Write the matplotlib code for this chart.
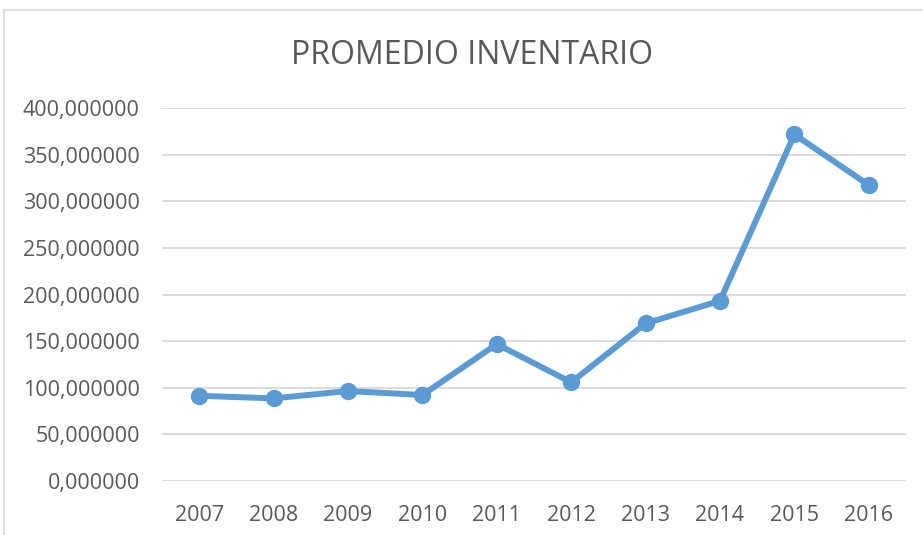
import matplotlib
matplotlib.use("Agg")
import matplotlib.pyplot as plt
from matplotlib.patches import Rectangle
from matplotlib.ticker import FuncFormatter

# Data
years = ["2007", "2008", "2009", "2010", "2011", "2012", "2013", "2014", "2015", "2016"]
promedio = [91.4, 88.6, 96.5, 92.2, 146.8, 105.8, 169.0, 193.2, 371.6, 317.3]
y_ticks = [0, 50, 100, 150, 200, 250, 300, 350, 400]

plt.rcParams['font.family'] = ['Open Sans', 'DejaVu Sans']

W, H = 923, 535
fig = plt.figure(figsize=(W / 100, H / 100), dpi=100)

# chart border (cut off at right and bottom, like the screenshot)
fig.patches.append(Rectangle((4 / W, -0.1), 1.2, 1 - 10 / H + 0.1,
                             transform=fig.transFigure, fill=False,
                             edgecolor="#D9D9D9", linewidth=1.2))

ax = fig.add_axes([162 / W, 1 - 481 / H, (906 - 162) / W, (481 - 108) / H])

x = list(range(len(years)))
ax.plot(x, promedio, color="#5B9BD5", linewidth=4.3, marker="o",
        markersize=11.5, solid_capstyle="round", zorder=3)

ax.set_xlim(-0.5, len(years) - 0.5)
ax.set_ylim(0, 400)
ax.set_yticks(y_ticks)
ax.yaxis.set_major_formatter(FuncFormatter(lambda v, p: f"{v:.6f}".replace(".", ",")))
ax.set_xticks(x)
ax.set_xticklabels(years)

ax.grid(axis="y", color="#D9D9D9", linewidth=1.3)
ax.set_axisbelow(True)
for s in ax.spines.values():
    s.set_visible(False)
ax.tick_params(length=0, labelsize=15.5, colors="#595959")
ax.tick_params(axis="y", pad=16)
ax.tick_params(axis="x", pad=17)

fig.text(472 / W, 1 - 55 / H, "PROMEDIO INVENTARIO", ha="center", va="center",
         fontsize=23, color="#595959")

fig.savefig("out.png", dpi=100)
